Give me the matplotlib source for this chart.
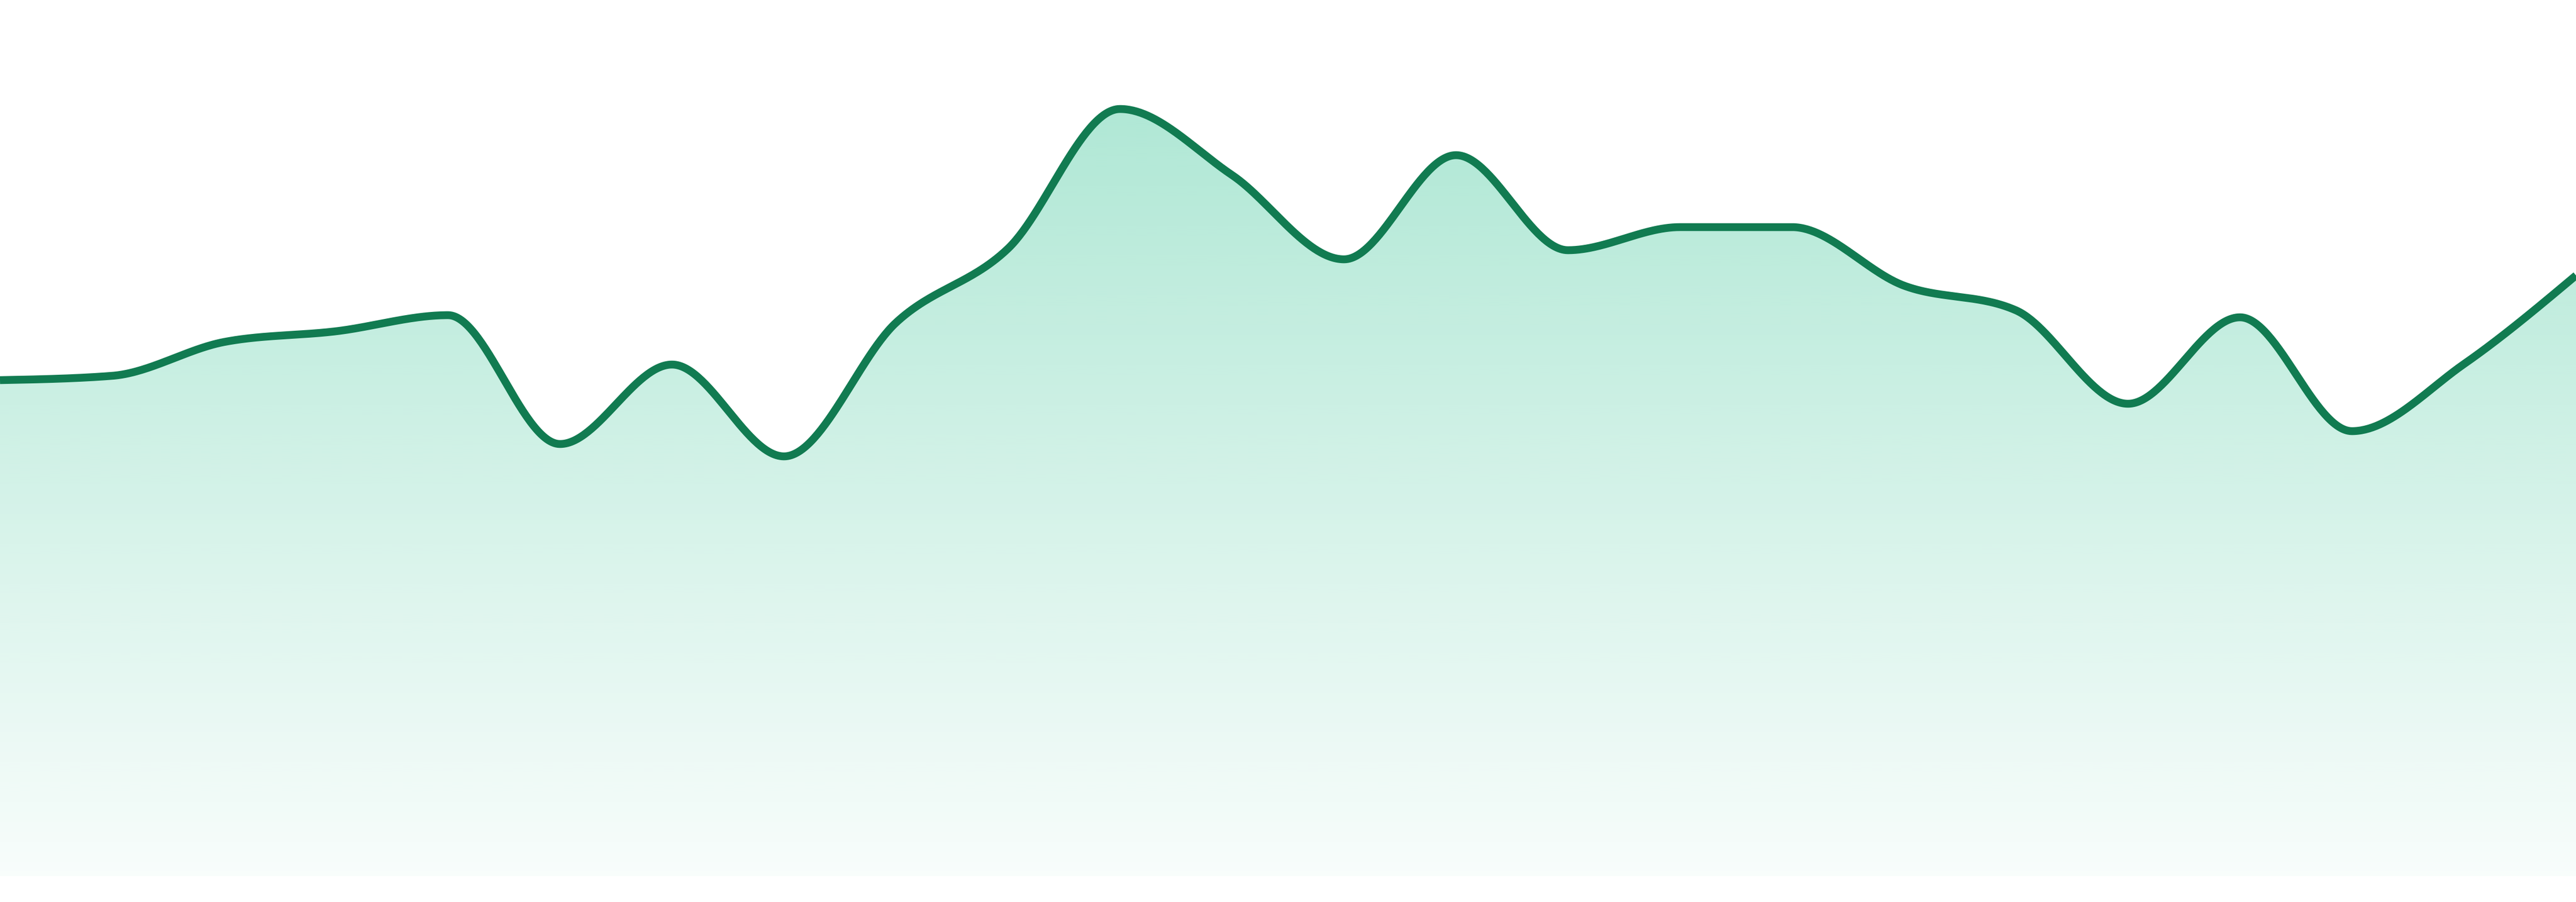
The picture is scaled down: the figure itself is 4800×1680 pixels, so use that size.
import numpy as np
import matplotlib
matplotlib.use("Agg")
import matplotlib.pyplot as plt
from matplotlib.patches import Polygon
from matplotlib.colors import to_rgb

# ---- data ----
x_idx = list(range(24))
values = [92.4, 93.2, 99.5, 101.5, 104.5, 80.5, 95.3, 78.2, 103.1, 116.9,
          142.9, 130.6, 114.9, 134.3, 116.6, 120.9, 120.9, 110.0, 105.4, 88.0,
          104.1, 82.9, 95.4, 111.9]

LINE_COLOR = "#117b51"
FILL_COLOR = "#10b981"


def monotone_x(x, y, n=60):
    """d3.curveMonotoneX style interpolation (Steffen slopes)."""
    x = np.asarray(x, float)
    y = np.asarray(y, float)
    m = len(x)
    h = np.diff(x)
    s = np.diff(y) / h
    t = np.zeros(m)
    for i in range(1, m - 1):
        h0, h1 = h[i - 1], h[i]
        s0, s1 = s[i - 1], s[i]
        p = (s0 * h1 + s1 * h0) / (h0 + h1)
        t[i] = (np.sign(s0) + np.sign(s1)) * min(abs(s0), abs(s1), 0.5 * abs(p))
    t[0] = (3 * s[0] - t[1]) / 2
    t[-1] = (3 * s[-1] - t[-2]) / 2
    xs, ys = [], []
    for i in range(m - 1):
        dx = x[i + 1] - x[i]
        p0 = np.array([x[i], y[i]])
        p1 = np.array([x[i] + dx / 3, y[i] + dx * t[i] / 3])
        p2 = np.array([x[i + 1] - dx / 3, y[i + 1] - dx * t[i + 1] / 3])
        p3 = np.array([x[i + 1], y[i + 1]])
        u = np.linspace(0, 1, n, endpoint=(i == m - 2))[:, None]
        pts = ((1 - u) ** 3) * p0 + 3 * ((1 - u) ** 2) * u * p1 + 3 * (1 - u) * u ** 2 * p2 + u ** 3 * p3
        xs.append(pts[:, 0])
        ys.append(pts[:, 1])
    return np.concatenate(xs), np.concatenate(ys)


fig = plt.figure(figsize=(16, 5.6), dpi=300)
ax = fig.add_axes([0, 0, 1, 1])
ax.set_xlim(0, 23)
ax.set_ylim(-4.8, 163.2)
ax.axis("off")

xs, ys = monotone_x(x_idx, values)

# gradient fill
r, g, b = to_rgb(FILL_COLOR)
ny = 400
alphas = np.linspace(0.375, 0.03, ny)[:, None]
grad = np.zeros((ny, 1, 4))
grad[..., 0] = r
grad[..., 1] = g
grad[..., 2] = b
grad[..., 3] = alphas
im = ax.imshow(grad, extent=[0, 23, 0, 163.2], origin="upper", aspect="auto",
               interpolation="bilinear", zorder=1)
poly_pts = np.column_stack([np.concatenate([xs, [xs[-1], xs[0]]]),
                            np.concatenate([ys, [0, 0]])])
poly = Polygon(poly_pts, closed=True, facecolor="none", edgecolor="none")
ax.add_patch(poly)
im.set_clip_path(poly)

ax.plot(xs, ys, color=LINE_COLOR, lw=3.5, solid_capstyle="butt",
        solid_joinstyle="round", zorder=3)

fig.savefig("out.png", dpi=300, facecolor="white")
